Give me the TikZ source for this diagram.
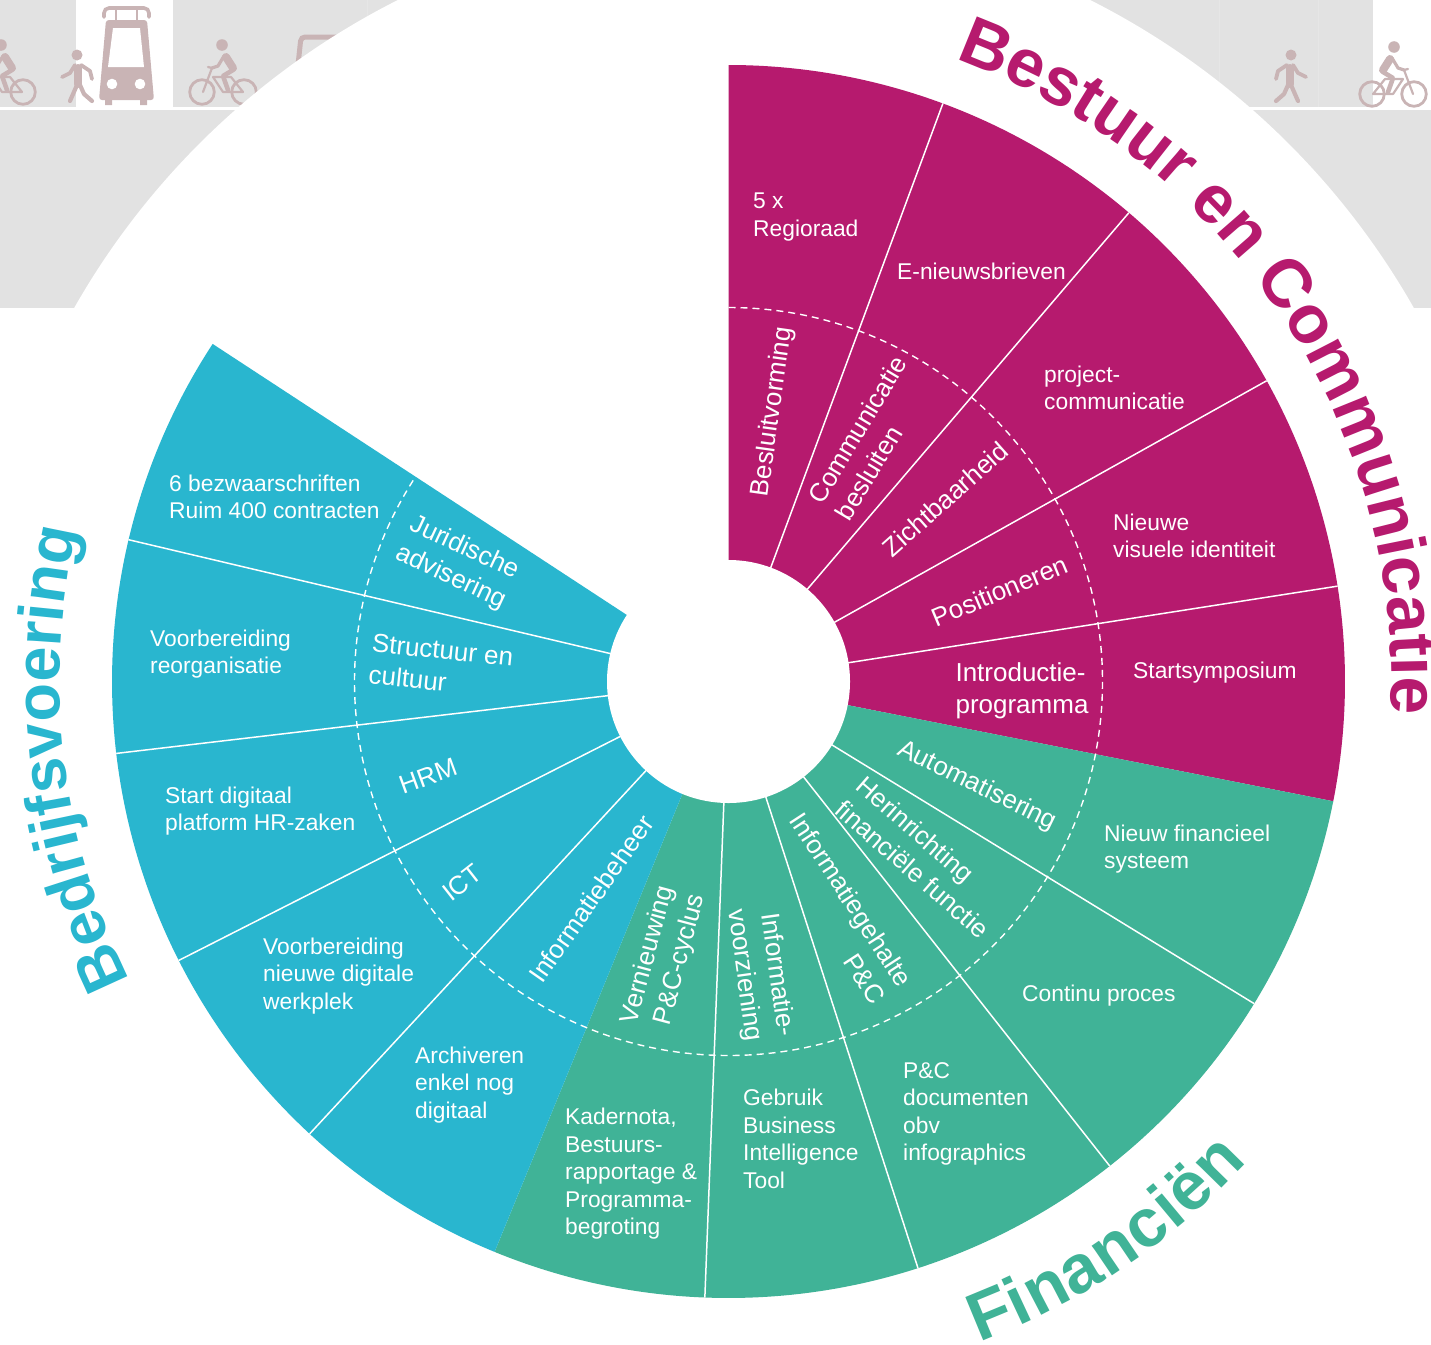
\documentclass[tikz,border=0pt]{standalone}
\usepackage{fontspec}
\setmainfont{Liberation Sans}
\usepackage{tikz}
\usetikzlibrary{decorations.text}
\definecolor{bestuur}{HTML}{B61A6E}
\definecolor{financien}{HTML}{40B397}
\definecolor{bedrijf}{HTML}{29B6CF}
\definecolor{straat}{HTML}{E2E2E2}
\definecolor{icoon}{HTML}{C9B4B5}
\newcommand{\titlefont}{\fontsize{68}{68}\selectfont\bfseries}
\newcommand{\smalltitlefont}{\fontsize{63}{63}\selectfont\bfseries}
\tikzstyle{leaf} = [text = white, anchor = west, align = left, inner sep = 0pt,
  font = \fontsize{22.8}{27.5}\selectfont]
\tikzstyle{ring} = [text = white, align = left, inner sep = 0pt,
  font = \fontsize{26}{32}\selectfont]
\tikzstyle{title} = [decorate, decoration = {text along path, text align = {fit to path}}]
\tikzstyle{limb} = [icoon, line width = 4.2pt, line cap = round, line join = round]
\tikzset{
  pics/cyclist/.style = {code = {
    \draw [icoon, line width = 2.8pt] (-21,0) circle (12.3) (21,0) circle (12.3);
    \fill [icoon] (-1,47) circle (5.8);
    \draw [icoon, line width = 2.2pt, line join = round, line cap = round]
      (-20,0) -- (-11,24) -- (-15,25) (-10,15) -- (8,15) -- (20,0) -- (0,0) -- (-10,15);
    \draw [limb, line width = 8pt] (3,35) -- (10,24);
    \draw [limb, line width = 3.2pt] (1,36) -- (-5,26) -- (-11,24);
    \draw [limb, line width = 4.6pt] (10,22) -- (0,16) -- (5,2);
  }},
  pics/walker/.style = {code = {
    \fill [icoon] (0,48) circle (5.5);
    \draw [limb, line width = 8pt] (1,35) -- (1,19);
    \draw [limb, line width = 3.8pt] (-2,38) -- (-7,30) -- (-15,26);
    \draw [limb, line width = 3.8pt] (4,38) -- (13,32) -- (15,24);
    \draw [limb] (0,18) -- (-7,2);
    \draw [limb] (3,18) -- (7,9) -- (15,2);
  }}
}
\begin{document}
\begin{tikzpicture}[x = 1pt, y = 1pt]
  \useasboundingbox (0,0) rectangle (1431,-1344);

  % street
  \fill [straat] (0,0) rectangle (76,-107);
  \fill [straat] (173,0) rectangle (1373,-107);
  \fill [straat] (0,-110) rectangle (1431,-308);
  \foreach \faint in {367, 1219, 1318}
    \draw [white!15!straat, line width = 0.6pt] (\faint,0) -- (\faint,-107);

  \pic at (2,-92) {cyclist};
  \pic at (223,-92) {cyclist};
  \pic [xscale = -1] at (1393,-94) {cyclist};
  \pic at (77,-103) {walker};
  \pic [xscale = -1] at (1291,-103) {walker};

  % tram
  \draw [icoon, line width = 3.6pt, rounded corners = 5pt, line cap = round]
    (104,-17) -- (104,-8) -- (149,-8) -- (149,-17);
  \draw [icoon, line width = 2.6pt] (116,-8) -- (116,-22) (137,-8) -- (137,-22);
  \fill [icoon, rounded corners = 3pt] (106,-20) -- (147,-20) -- (154,-100)
    -- (99,-100) -- cycle;
  \fill [icoon] (105,-98) rectangle (112,-105) (140,-98) rectangle (147,-105);
  \fill [white] (113,-28) -- (140,-28) -- (144,-67) -- (108,-67) -- cycle;
  \fill [white] (112,-84) circle (5.3) (140,-84) circle (5.3);
  \draw [icoon, line width = 5pt, rounded corners = 4pt]
    (298,-65) -- (301,-37) -- (345,-37);

  % white circle over the street
  \fill [white] (744,-688) circle (770);

  \begin{scope}[shift = {(728.5,-681.5)}]
    \fill [bestuur] (0,0) -- (90:616.5) arc (90:-11.2:616.5) -- cycle;
    \fill [financien] (0,0) -- (-11.2:616.5) arc (-11.2:-112.3:616.5) -- cycle;
    \fill [bedrijf] (0,0) -- (-112.3:616.5) arc (-112.3:-213.2:616.5) -- cycle;
    \foreach \a in {69.65, 49.5, 29.2, 8.9, -31.5, -51.8, -72.1, -92.2, -132.8, -153.1, -173.3, 166.7}
      \draw [white, line width = 1.5pt] (\a:121) -- (\a:616.5);
    \draw [white, line width = 1.4pt, dash pattern = on 7pt off 5pt]
      (90:374) arc (90:-213.2:374);
    \fill [white] (0,0) circle (121.5);

    \path [title, decoration = {text = {|\titlefont\color{bestuur}|Bestuur en Communicatie}}]
      (70:663) arc (70:-2.6:663);
    \path [title, decoration = {text = {|\titlefont\color{financien}|Financiën}}]
      (-69.2:707) arc (-69.2:-42.8:707);
    \path [title, decoration = {text = {|\smalltitlefont\color{bedrijf}|Bedrijfsvoering}}]
      (206.5:669) arc (206.5:167.2:669);
  \end{scope}

  % outer ring
  \node (regioraad) [leaf] at (753,-217) {5 x\\Regioraad};
  \node (nieuwsbrief) [leaf] at (897,-271) {E-nieuwsbrieven};
  \node (projectcomm) [leaf] at (1044,-388) {project-\\communicatie};
  \node (identiteit) [leaf] at (1113,-536) {Nieuwe\\visuele identiteit};
  \node (symposium) [leaf] at (1133,-673) {Startsymposium};
  \node (systeem) [leaf] at (1104,-849) {Nieuw financieel\\systeem};
  \node (proces) [leaf] at (1022,-996) {Continu proces};
  \node (documenten) [leaf] at (903,-1114) {P\&C\\documenten\\obv\\infographics};
  \node (biTool) [leaf] at (743,-1139) {Gebruik\\Business\\Intelligence\\Tool};
  \node (kadernota) [leaf] at (565,-1174) {Kadernota,\\Bestuurs-\\rapportage \&\\Programma-\\begroting};
  \node (archiveren) [leaf] at (415,-1085) {Archiveren\\enkel nog\\digitaal};
  \node (werkplek) [leaf] at (263,-976) {Voorbereiding\\nieuwe digitale\\werkplek};
  \node (platform) [leaf] at (165,-811) {Start digitaal\\platform HR-zaken};
  \node (reorganisatie) [leaf] at (150,-654) {Voorbereiding\\reorganisatie};
  \node (contracten) [leaf] at (169,-497) {6 bezwaarschriften\\Ruim 400 contracten};

  % inner ring
  \node (besluitvorming) [ring, rotate = 82] at (773,-412) {Besluitvorming};
  \node (commbesluit) [ring, rotate = 59] at (871,-438) {Communicatie\\besluiten};
  \node (zichtbaarheid) [ring, rotate = 41.6] at (945,-499) {Zichtbaarheid};
  \node (positioneren) [ring, rotate = 22.8] at (1000,-591) {Positioneren};
  \node (introductie) [ring] at (1022,-691) {Introductie-\\programma};
  \node (automatisering) [ring, rotate = -26] at (977,-786) {Automatisering};
  \node (herinrichting) [ring, rotate = -41] at (923,-857) {Herinrichting\\financiële functie};
  \node (gehalte) [ring, rotate = -57, align = right] at (838,-908) {Informatiegehalte\\P\&C};
  \node (voorziening) [ring, rotate = -82, align = right] at (760,-973) {Informatie-\\voorziening};
  \node (cyclus) [ring, rotate = 75, align = right] at (664,-959) {Vernieuwing\\P\&C-cyclus};
  \node (beheer) [ring, rotate = 55] at (591,-899) {Informatiebeheer};
  \node (ict) [ring, rotate = 38] at (462,-883) {ICT};
  \node (hrm) [ring, rotate = 20] at (428,-776) {HRM};
  \node (structuur) [ring, rotate = -6] at (441,-666) {Structuur en\\cultuur};
  \node (juridisch) [ring, rotate = -25] at (458,-563) {Juridische\\advisering};
\end{tikzpicture}
\end{document}
